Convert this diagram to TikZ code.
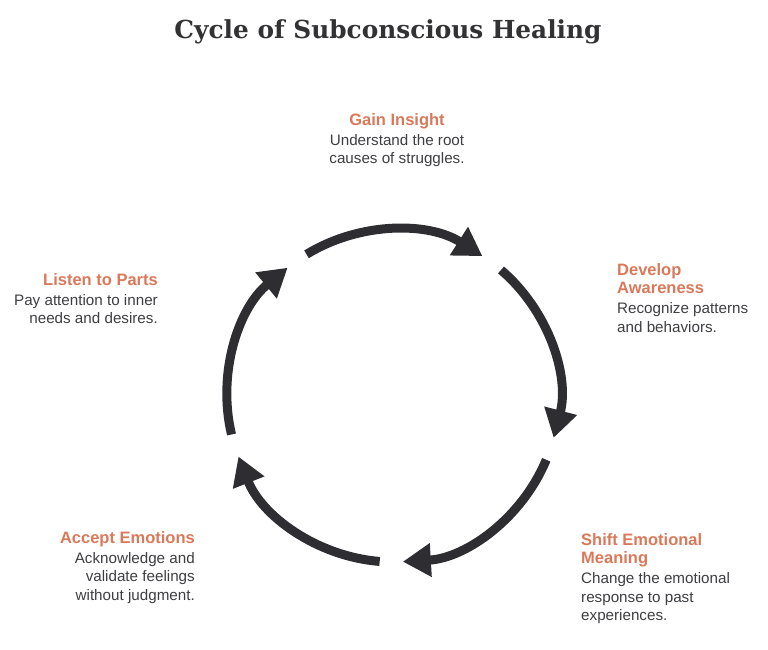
\documentclass[tikz,border=0pt]{standalone}
\usepackage{fontspec}
\setmainfont{Liberation Sans}
\newfontfamily\titlefont{DejaVu Serif}
\usetikzlibrary{arrows.meta}
\definecolor{accent}{RGB}{217,121,90}
\definecolor{bodygray}{RGB}{62,62,66}
\definecolor{arcgray}{RGB}{45,45,50}
\definecolor{titlegray}{RGB}{50,50,52}
\tikzset{
  cyclearc/.style={draw=arcgray, line width=9pt, -{Triangle[length=28pt,width=32pt]}},
  lbl/.style={inner sep=0pt, text=bodygray, font=\fontsize{15.2}{18.5}\selectfont},
}
\newcommand{\hd}[1]{{\color{accent}\bfseries\fontsize{16.5}{20}\selectfont #1}}
\begin{document}
\begin{tikzpicture}[x=1pt,y=-1pt]
\useasboundingbox (0,0) rectangle (768,650);
\node[anchor=base, inner sep=0pt, text=titlegray, font=\titlefont\bfseries\fontsize{24.8}{28}\selectfont] (title) at (388,39) {Cycle of Subconscious Healing};
\coordinate (c) at (393,396);
\foreach \k in {0,...,4}{
  \pgfmathsetmacro{\sa}{-121.4+72*\k}
  \pgfmathsetmacro{\ea}{\sa+64}
  \draw[cyclearc] (c) ++(\sa:166) arc[start angle=\sa, end angle=\ea, radius=166];
}
\node[lbl, align=center, anchor=north] (gain) at (397,113) {\hd{Gain Insight}\\[1.5pt]Understand the root\\causes of struggles.};
\node[lbl, align=left, anchor=north west] (dev) at (617,263) {\hd{Develop}\\\hd{Awareness}\\[1.5pt]Recognize patterns\\and behaviors.};
\node[lbl, align=left, anchor=north west] (shift) at (581,533) {\hd{Shift Emotional}\\\hd{Meaning}\\[1.5pt]Change the emotional\\response to past\\experiences.};
\node[lbl, align=right, anchor=north east] (accept) at (195,531) {\hd{Accept Emotions}\\[1.5pt]Acknowledge and\\validate feelings\\without judgment.};
\node[lbl, align=right, anchor=north east] (listen) at (158,273) {\hd{Listen to Parts}\\[1.5pt]Pay attention to inner\\needs and desires.};
\end{tikzpicture}
\end{document}
